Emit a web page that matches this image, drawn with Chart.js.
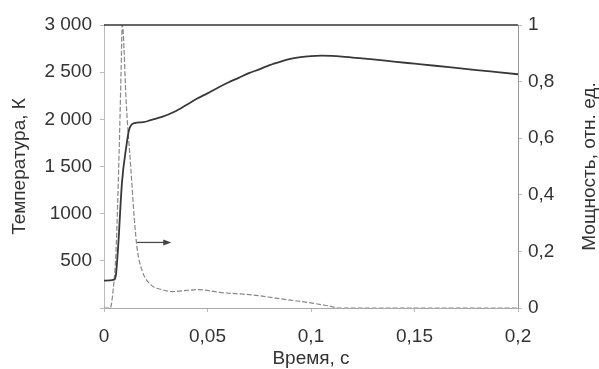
<!DOCTYPE html>
<html>
<head>
<meta charset="utf-8">
<script src="https://cdn.jsdelivr.net/npm/chart.js@4"></script>
<style>
  html, body { margin: 0; padding: 0; background: #fff; }
  #wrap { width: 599px; height: 369px; }
</style>
</head>
<body>
<div id="wrap"><canvas id="myChart" width="599" height="369"></canvas></div>
<script>
// temperature, K (left axis)
const tempTime = [0, 0.005, 0.0058, 0.0068, 0.0087, 0.0107, 0.0121, 0.0146, 0.019, 0.023, 0.028,
  0.034, 0.04, 0.045, 0.05, 0.055, 0.06, 0.065, 0.07, 0.075,
  0.08, 0.085, 0.09, 0.095, 0.1, 0.105, 0.11, 0.115, 0.12, 0.13, 0.14, 0.15, 0.16, 0.17, 0.18, 0.19, 0.2];
const tempValues = [290, 300, 360, 640, 1335, 1700, 1890, 1960, 1970, 1995, 2025,
  2080, 2155, 2220, 2275, 2335, 2390, 2440, 2490, 2530,
  2575, 2610, 2640, 2660, 2670, 2675, 2672, 2665, 2655, 2635, 2612, 2590, 2568, 2545, 2522, 2500, 2478];

// power, rel. units (right axis)
const powerTime = [0, 0.003, 0.0045, 0.0058, 0.0073, 0.0083, 0.0088, 0.0093, 0.0107, 0.013, 0.0146,
  0.016, 0.0185, 0.023, 0.028, 0.033, 0.04, 0.045, 0.05, 0.056, 0.065, 0.072, 0.083, 0.09,
  0.1, 0.108, 0.114, 0.15, 0.2];
const powerValues = [0, 0, 0.07, 0.2, 0.55, 0.85, 1.0, 0.97, 0.73, 0.49, 0.32,
  0.21, 0.13, 0.08, 0.065, 0.058, 0.062, 0.065, 0.062, 0.055, 0.05, 0.046, 0.035, 0.028,
  0.018, 0.008, 0, 0, 0];

const timeTicks = [0, 0.05, 0.1, 0.15, 0.2];
const timeTickLabels = ['0', '0,05', '0,1', '0,15', '0,2'];
const tempTickLabels = ['', '500', '1000', '1 500', '2 000', '2 500', '3 000'];
const powerTickLabels = ['0', '0,2', '0,4', '0,6', '0,8', '1'];
const powerTitle = 'Мощность, отн. ед.';

// arrow pointing to the power axis: [time, temperature]
const arrowFrom = [0.016, 695];
const arrowTo = [0.0325, 695];

const font = { family: "'Liberation Sans', Arial, sans-serif", size: 19 };

const framePlugin = {
  id: 'frame',
  afterDatasetsDraw(chart) {
    const ctx = chart.ctx;
    const area = chart.chartArea;
    const x = chart.scales.x;
    const y = chart.scales.yT;
    ctx.save();
    // top frame line
    ctx.strokeStyle = '#333';
    ctx.lineWidth = 1.5;
    ctx.beginPath();
    ctx.moveTo(area.left, area.top);
    ctx.lineTo(area.right, area.top);
    ctx.stroke();
    // arrow
    const x0 = x.getPixelForValue(arrowFrom[0]);
    const y0 = y.getPixelForValue(arrowFrom[1]);
    const x1 = x.getPixelForValue(arrowTo[0]);
    const y1 = y.getPixelForValue(arrowTo[1]);
    ctx.strokeStyle = '#444';
    ctx.fillStyle = '#444';
    ctx.lineWidth = 1.2;
    ctx.beginPath();
    ctx.moveTo(x0, y0);
    ctx.lineTo(x1 - 6, y1);
    ctx.stroke();
    ctx.beginPath();
    ctx.moveTo(x1, y1);
    ctx.lineTo(x1 - 8, y1 - 3);
    ctx.lineTo(x1 - 8, y1 + 3);
    ctx.closePath();
    ctx.fill();
    // right axis title, reading bottom to top like the left one
    const yP = chart.scales.yP;
    ctx.translate(yP.right - 9, (area.top + area.bottom) / 2);
    ctx.rotate(-Math.PI / 2);
    ctx.font = font.size + 'px ' + font.family;
    ctx.fillStyle = '#333';
    ctx.textAlign = 'center';
    ctx.textBaseline = 'middle';
    ctx.fillText(powerTitle, 0, 0);
    ctx.restore();
  }
};

const ctx = document.getElementById('myChart').getContext('2d');
const chart = new Chart(ctx, {
  type: 'line',
  data: {
    datasets: [
      {
        label: 'Температура',
        data: tempTime.map((t, i) => ({ x: t, y: tempValues[i] })),
        yAxisID: 'yT',
        borderColor: '#383838',
        borderWidth: 1.8,
        pointRadius: 0,
        cubicInterpolationMode: 'monotone',
        fill: false
      },
      {
        label: 'Мощность',
        data: powerTime.map((t, i) => ({ x: t, y: powerValues[i] })),
        yAxisID: 'yP',
        borderColor: '#888',
        borderWidth: 1.2,
        borderDash: [5, 2],
        pointRadius: 0,
        cubicInterpolationMode: 'monotone',
        fill: false
      }
    ]
  },
  options: {
    responsive: false,
    animation: false,
    layout: { padding: { top: 25 } },
    plugins: { legend: { display: false }, tooltip: { enabled: false } },
    scales: {
      x: {
        type: 'linear',
        min: 0,
        max: 0.2,
        afterFit: s => { s.height = 61; },
        afterBuildTicks: s => { s.ticks = timeTicks.map(v => ({ value: v })); },
        ticks: {
          font: font,
          color: '#333',
          padding: 13,
          maxRotation: 0,
          callback: (v, i) => timeTickLabels[i]
        },
        grid: { drawOnChartArea: false, tickLength: 4, color: '#bbb' },
        border: { color: '#aaa', dash: [3, 2] },
        title: {
          display: true,
          text: 'Время, с',
          font: font,
          color: '#333',
          padding: { top: 0, bottom: -1 },
          lineHeight: 1
        }
      },
      yT: {
        position: 'left',
        min: 0,
        max: 3000,
        afterFit: s => { s.width = 104; },
        ticks: {
          stepSize: 500,
          font: font,
          color: '#333',
          padding: 8,
          callback: (v, i) => tempTickLabels[i]
        },
        grid: { drawOnChartArea: false, tickLength: 4, color: '#bbb' },
        border: { color: '#bbb' },
        title: {
          display: true,
          text: 'Температура, К',
          font: font,
          color: '#333',
          padding: { top: 8, bottom: 0 },
          lineHeight: 1.2
        }
      },
      yP: {
        position: 'right',
        min: 0,
        max: 1,
        afterFit: s => { s.width = 81; },
        ticks: {
          stepSize: 0.2,
          font: font,
          color: '#333',
          padding: 6,
          callback: (v, i) => powerTickLabels[i]
        },
        grid: { drawOnChartArea: false, tickLength: 4, color: '#bbb' },
        border: { color: '#999', dash: [2, 2] }
      }
    }
  },
  plugins: [framePlugin]
});
</script>
</body>
</html>
